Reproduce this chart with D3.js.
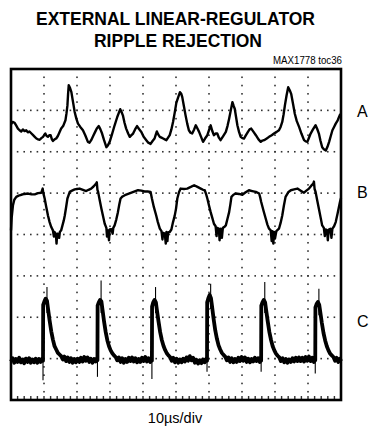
<!DOCTYPE html>
<html>
<head>
<meta charset="utf-8">
<script src="https://cdn.jsdelivr.net/npm/d3@7"></script>
<style>
  html, body { margin: 0; padding: 0; background: #fff; }
  svg { display: block; }
  text { font-family: "Liberation Sans", Arial, sans-serif; fill: #000; }
</style>
</head>
<body>
<div id="chart"></div>
<script>
// Oscilloscope capture: time in µs (10 µs/div, 10 divisions), amplitude in screen divisions (0 = bottom, 8 = top)
const titleLines = ["EXTERNAL LINEAR-REGULATOR", "RIPPLE REJECTION"];
const figureId = "MAX1778 toc36";
const channelNames = ["A", "B", "C"];
const timebaseLabel = "10µs/div";
const gridCols = [10, 20, 30, 40, 50, 60, 70, 80, 90];
const gridRows = [1, 2, 3, 4, 5, 6, 7];

// Channel A: regulator output ripple
const traceA = [
  [0.0,6.66],[0.5,6.72],[1.1,6.70],[1.6,6.63],[2.1,6.56],[2.6,6.52],[3.1,6.49],[3.6,6.54],[4.1,6.50],[4.6,6.52],
  [5.1,6.47],[5.6,6.49],[6.2,6.44],[6.7,6.40],[7.2,6.36],[7.7,6.32],[8.2,6.30],[8.7,6.29],[9.2,6.33],[9.7,6.36],
  [10.1,6.41],[10.4,6.44],[10.8,6.38],[11.2,6.36],[11.6,6.40],[12.0,6.40],[12.4,6.30],[12.7,6.26],[13.2,6.30],[13.7,6.32],
  [14.2,6.38],[14.7,6.47],[15.2,6.56],[15.8,6.62],[16.5,6.76],[16.8,6.92],[17.1,7.12],[17.3,7.40],[17.5,7.61],[17.9,7.54],
  [18.3,7.44],[18.8,7.20],[19.3,6.96],[19.8,6.80],[20.3,6.68],[21.0,6.60],[21.8,6.52],[22.5,6.40],[23.3,6.24],[23.8,6.22],
  [24.3,6.28],[24.9,6.38],[25.5,6.48],[26.0,6.56],[26.6,6.62],[27.1,6.54],[27.6,6.44],[28.2,6.28],[28.9,6.11],[29.4,6.16],
  [29.9,6.24],[30.6,6.42],[31.4,6.64],[32.2,6.84],[33.1,7.03],[33.5,6.96],[33.9,6.88],[34.4,6.70],[34.9,6.56],[35.5,6.44],
  [36.0,6.36],[36.5,6.40],[37.0,6.44],[37.6,6.54],[38.2,6.62],[38.8,6.55],[39.5,6.48],[40.2,6.36],[41.0,6.28],[41.6,6.22],
  [42.3,6.19],[42.9,6.26],[43.5,6.32],[43.9,6.42],[44.2,6.49],[44.6,6.42],[45.1,6.36],[45.6,6.34],[46.1,6.32],[46.6,6.30],
  [47.1,6.28],[47.6,6.34],[48.1,6.40],[48.6,6.54],[49.1,6.72],[49.6,6.94],[50.1,7.18],[50.6,7.30],[51.2,7.44],[51.6,7.40],
  [51.9,7.32],[52.4,7.10],[52.9,6.88],[53.4,6.68],[53.9,6.52],[54.4,6.46],[54.9,6.44],[55.5,6.54],[56.0,6.64],[56.5,6.56],
  [57.0,6.48],[57.6,6.36],[58.2,6.24],[58.8,6.32],[59.5,6.40],[60.0,6.52],[60.5,6.64],[61.0,6.50],[61.5,6.40],[62.0,6.44],
  [62.5,6.44],[63.0,6.34],[63.5,6.28],[64.3,6.38],[65.1,6.48],[65.6,6.62],[66.1,6.80],[66.6,7.00],[67.1,7.20],[67.5,7.10],
  [67.8,7.04],[68.2,6.84],[68.6,6.64],[69.1,6.48],[69.6,6.36],[70.1,6.33],[70.6,6.32],[71.2,6.40],[71.8,6.48],[72.3,6.54],
  [72.8,6.56],[73.5,6.48],[74.2,6.40],[75.0,6.30],[75.7,6.24],[76.2,6.27],[76.7,6.28],[77.5,6.32],[78.2,6.36],[79.0,6.40],
  [79.7,6.44],[80.5,6.48],[81.2,6.52],[81.7,6.60],[82.2,6.72],[82.6,6.90],[83.0,7.12],[83.5,7.36],[84.0,7.56],[84.5,7.48],
  [84.9,7.40],[85.5,7.14],[86.0,6.92],[86.6,6.74],[87.3,6.60],[88.0,6.44],[88.8,6.28],[89.3,6.25],[89.8,6.24],[90.3,6.34],
  [90.8,6.44],[91.5,6.54],[92.3,6.64],[92.8,6.55],[93.3,6.44],[93.8,6.26],[94.3,6.11],[94.8,6.06],[95.4,6.03],[95.9,6.12],
  [96.4,6.24],[96.9,6.38],[97.4,6.52],[97.9,6.60],[98.4,6.68],[99.0,6.76],[99.6,6.88],[100,6.92]
];

// Channel B: regulator input ripple
const traceB = [
  [0.0,4.10],[0.2,4.40],[0.6,4.71],[1.0,4.84],[1.6,4.91],[2.3,4.94],[3.1,4.96],[4.1,4.98],[5.2,4.99],[6.2,4.97],
  [7.2,4.97],[8.2,5.00],[9.2,5.01],[9.6,5.11],[9.8,5.00],[10.2,4.87],[10.7,4.66],[11.2,4.46],[11.7,4.30],[12.2,4.18],
  [12.7,4.10],[13.0,3.95],[13.2,4.06],[13.6,4.00],[13.8,3.78],[14.0,4.02],[14.2,4.02],[14.6,3.92],[14.8,4.06],[15.2,4.10],
  [15.6,4.22],[16.0,4.34],[16.3,4.46],[16.7,4.66],[17.1,4.87],[17.8,5.03],[18.5,5.06],[19.3,5.09],[20.0,5.10],[20.8,5.11],
  [21.8,5.08],[22.8,5.05],[23.5,5.08],[24.3,5.11],[25.0,5.16],[25.8,5.23],[26.0,5.26],[26.2,5.08],[26.4,5.03],[26.9,4.82],
  [27.4,4.62],[27.9,4.44],[28.4,4.26],[28.9,4.16],[29.1,3.95],[29.4,4.10],[29.7,3.86],[29.9,4.12],[30.4,4.13],[30.8,4.02],
  [31.0,4.16],[31.4,4.22],[31.9,4.36],[32.4,4.54],[32.8,4.72],[33.2,4.87],[33.8,4.92],[34.5,4.95],[35.5,4.98],[36.5,5.01],
  [37.5,5.04],[38.5,5.07],[39.5,5.06],[40.5,5.04],[41.4,5.04],[42.3,5.03],[42.7,4.87],[43.3,4.66],[44.0,4.46],[44.5,4.30],
  [45.1,4.14],[45.6,4.08],[45.9,3.88],[46.1,4.04],[46.6,4.02],[46.9,3.78],[47.1,4.06],[47.4,3.84],[47.6,4.05],[48.1,4.06],
  [48.6,4.12],[49.1,4.30],[49.6,4.45],[50.0,4.62],[50.4,4.87],[50.9,5.02],[51.4,5.11],[52.4,5.10],[53.4,5.11],[54.5,5.15],
  [55.5,5.19],[56.5,5.15],[57.5,5.11],[58.2,5.08],[58.7,5.07],[59.1,4.98],[59.5,4.87],[60.0,4.70],[60.5,4.54],[61.0,4.40],
  [61.5,4.26],[62.0,4.20],[62.3,3.96],[62.5,4.16],[63.0,4.14],[63.2,3.86],[63.5,4.14],[63.9,3.92],[64.2,4.16],[64.6,4.18],
  [65.1,4.22],[65.6,4.38],[66.1,4.54],[66.5,4.74],[66.8,4.91],[67.4,4.96],[68.1,4.99],[69.1,4.98],[70.1,4.96],[71.1,5.02],
  [72.1,5.07],[73.1,5.05],[74.2,5.03],[75.2,4.99],[75.5,4.90],[75.8,4.79],[76.5,4.58],[77.2,4.38],[77.7,4.24],[78.2,4.14],
  [78.7,4.10],[79.0,3.84],[79.2,4.08],[79.5,3.78],[79.7,4.06],[80.0,3.90],[80.4,4.08],[81.2,4.14],[81.7,4.28],[82.2,4.46],
  [82.7,4.70],[83.2,4.91],[84.0,5.02],[84.8,5.07],[85.8,5.09],[86.8,5.11],[87.8,5.06],[88.8,5.01],[89.5,5.06],[90.3,5.11],
  [91.0,5.18],[91.6,5.23],[91.8,5.28],[92.0,5.10],[92.3,5.03],[92.8,4.82],[93.3,4.62],[93.8,4.42],[94.3,4.22],[94.8,4.16],
  [95.1,3.96],[95.4,4.12],[95.8,4.10],[96.0,3.86],[96.3,4.12],[96.8,4.14],[97.1,3.92],[97.4,4.14],[97.9,4.20],[98.4,4.30],
  [99.0,4.52],[99.7,4.79],[100,4.88]
];

// Channel C: switching pulses with noisy baseline
const traceC = [
  [0.0,0.93],[0.5,1.01],[1.0,0.90],[1.5,0.99],[2.0,0.92],[2.5,1.02],[3.0,0.91],[3.5,0.98],[4.0,0.89],[4.5,1.00],
  [5.0,0.92],[5.5,1.01],[6.0,0.90],[6.5,0.98],[7.0,0.91],[7.5,1.00],[8.0,0.90],[8.5,0.99],[9.0,0.92],[9.5,1.00],[9.7,0.95],
  [9.75,2.30],[10.1,2.38],[10.5,2.45],[10.9,2.40],[11.2,2.22],[11.7,1.92],[12.2,1.66],[12.7,1.46],[13.2,1.30],[13.7,1.22],
  [14.2,1.14],[14.7,1.10],[15.2,1.06],[15.7,0.98],[16.2,1.05],[16.7,0.94],[17.2,1.03],[17.7,0.92],[18.2,1.01],[18.7,0.90],
  [19.2,0.99],[19.7,0.91],[20.2,1.00],[20.7,0.92],[21.2,1.02],[21.7,0.93],[22.2,1.04],[22.7,0.95],[23.2,1.03],[23.7,0.92],
  [24.2,1.00],[24.7,0.90],[25.2,0.99],[25.7,0.93],[26.1,1.02],[26.2,0.96],
  [26.25,2.28],[26.6,2.36],[27.0,2.42],[27.4,2.38],[27.7,2.20],[28.2,1.90],[28.7,1.64],[29.2,1.44],[29.7,1.30],[30.2,1.20],
  [30.7,1.13],[31.2,1.08],[31.7,1.04],[32.2,0.96],[32.7,1.03],[33.2,0.92],[33.7,1.01],[34.2,0.90],[34.7,0.99],[35.2,0.92],
  [35.7,1.02],[36.2,0.94],[36.7,1.03],[37.2,0.93],[37.7,1.01],[38.2,0.91],[38.7,0.99],[39.2,0.92],[39.7,1.02],[40.2,0.94],
  [40.7,1.04],[41.2,0.93],[41.7,1.01],[42.2,0.92],[42.6,1.00],[42.7,0.95],
  [42.75,2.26],[43.1,2.36],[43.5,2.42],[43.9,2.36],[44.2,2.18],[44.7,1.90],[45.2,1.64],[45.7,1.45],[46.2,1.31],[46.7,1.21],
  [47.2,1.13],[47.7,1.08],[48.2,1.04],[48.7,0.95],[49.2,1.02],[49.7,0.91],[50.2,1.00],[50.7,0.90],[51.2,0.98],[51.7,0.91],
  [52.2,1.00],[52.7,0.93],[53.2,1.03],[53.7,0.95],[54.2,1.06],[54.7,0.96],[55.2,1.02],[55.7,0.90],[56.2,0.97],[56.7,0.88],
  [57.2,0.96],[57.7,0.89],[58.2,0.98],[58.7,0.91],[59.2,1.00],[59.4,0.95],
  [59.45,2.36],[59.8,2.46],[60.2,2.54],[60.6,2.46],[60.9,2.28],[61.4,1.96],[61.9,1.68],[62.4,1.48],[62.9,1.32],[63.4,1.22],
  [63.9,1.14],[64.4,1.09],[64.9,1.05],[65.4,0.96],[65.9,1.03],[66.4,0.92],[66.9,1.01],[67.4,0.91],[67.9,0.99],[68.4,0.92],
  [68.9,1.02],[69.4,0.94],[69.9,1.04],[70.4,0.95],[70.9,1.03],[71.4,0.92],[71.9,1.00],[72.4,0.91],[72.9,0.99],[73.4,0.93],
  [73.9,1.02],[74.4,0.94],[74.9,1.01],[75.4,0.92],[75.7,1.00],[75.8,0.95],
  [75.85,2.28],[76.2,2.36],[76.6,2.42],[77.0,2.36],[77.3,2.18],[77.8,1.90],[78.3,1.64],[78.8,1.45],[79.3,1.30],[79.8,1.20],
  [80.3,1.12],[80.8,1.07],[81.3,1.03],[81.8,0.94],[82.3,1.01],[82.8,0.91],[83.3,0.99],[83.8,0.90],[84.3,0.98],[84.8,0.92],
  [85.3,1.01],[85.8,0.93],[86.3,1.02],[86.8,0.94],[87.3,1.03],[87.8,0.94],[88.3,1.02],[88.8,0.93],[89.3,1.04],[89.8,0.95],
  [90.3,1.05],[90.8,0.94],[91.3,1.02],[91.8,0.92],[92.1,1.00],[92.2,0.96],
  [92.25,2.24],[92.6,2.32],[93.0,2.37],[93.4,2.30],[93.7,2.14],[94.2,1.86],[94.7,1.62],[95.2,1.44],[95.7,1.30],[96.2,1.20],
  [96.7,1.12],[97.2,1.08],[97.7,1.04],[98.2,0.95],[98.7,1.02],[99.2,0.92],[99.7,1.00],[100,0.94]
];

// Thin switching glitches on channel C: [time, from, to]
const traceCGlitches = [
  [9.7,0.48,2.30],[10.9,2.10,2.73],
  [26.2,0.56,2.28],[27.3,2.10,2.89],
  [42.7,0.51,2.26],[43.8,2.10,2.73],
  [59.4,0.68,2.36],[60.5,2.20,2.81],
  [75.8,0.68,2.28],[76.9,2.10,2.85],
  [92.2,0.64,2.24],[93.3,2.05,2.69]
];

const W = 369, H = 431;
const svg = d3.select("#chart").append("svg").attr("width", W).attr("height", H);
svg.append("rect").attr("width", W).attr("height", H).attr("fill", "#fff");

const x = d3.scaleLinear().domain([0, 100]).range([11, 341]);
const y = d3.scaleLinear().domain([0, 8]).range([400, 69]);

// Title
svg.append("text").attr("x", 175.5).attr("y", 25).attr("text-anchor", "middle")
  .attr("textLength", 279).attr("lengthAdjust", "spacingAndGlyphs")
  .style("font-weight", "bold").style("font-size", "18.2px").text(titleLines[0]);
svg.append("text").attr("x", 178).attr("y", 46.5).attr("text-anchor", "middle")
  .attr("textLength", 168).attr("lengthAdjust", "spacingAndGlyphs")
  .style("font-weight", "bold").style("font-size", "18.2px").text(titleLines[1]);
svg.append("text").attr("x", 342).attr("y", 64).attr("text-anchor", "end")
  .attr("textLength", 69).attr("lengthAdjust", "spacingAndGlyphs")
  .style("font-size", "10px").text(figureId);

// Graticule: dotted division lines, dots every minor (1/5) division
const grid = svg.append("g").attr("fill", "#333");
const minorT = d3.range(0, 100.001, 2);
const minorV = d3.range(0, 8.001, 0.2);
gridRows.forEach(r => {
  grid.selectAll(null).data(minorT).enter().append("rect")
    .attr("x", d => x(d) - 0.8).attr("y", y(r) - 0.8).attr("width", 1.6).attr("height", 1.6);
});
gridCols.forEach(c => {
  grid.selectAll(null).data(minorV).enter().append("rect")
    .attr("x", x(c) - 0.8).attr("y", d => y(d) - 0.8).attr("width", 1.6).attr("height", 1.6);
});
// minor ticks along the bottom edge
grid.selectAll(null).data(minorT).enter().append("rect")
  .attr("x", d => x(d) - 0.7).attr("y", y(0) - 4).attr("width", 1.4).attr("height", 3);

// Traces
const line = d3.line().x(d => x(d[0])).y(d => y(d[1]));
svg.append("path").datum(traceA).attr("d", line)
  .attr("fill", "none").attr("stroke", "#000").attr("stroke-width", 2.4).attr("stroke-linejoin", "round");
svg.append("path").datum(traceB).attr("d", line)
  .attr("fill", "none").attr("stroke", "#000").attr("stroke-width", 2.4).attr("stroke-linejoin", "round");
svg.append("path").datum(traceC).attr("d", line)
  .attr("fill", "none").attr("stroke", "#000").attr("stroke-width", 3.8).attr("stroke-linejoin", "round");
svg.append("g").selectAll("line").data(traceCGlitches).enter().append("line")
  .attr("x1", d => x(d[0])).attr("x2", d => x(d[0]))
  .attr("y1", d => y(d[1])).attr("y2", d => y(d[2]))
  .attr("stroke", "#000").attr("stroke-width", 1.1);

// Screen border
svg.append("rect").attr("x", x(0)).attr("y", y(8))
  .attr("width", x(100) - x(0)).attr("height", y(0) - y(8))
  .attr("fill", "none").attr("stroke", "#000").attr("stroke-width", 2.6);

// Channel labels
const labelBaselines = [117, 198, 326.5];
channelNames.forEach((n, i) => {
  svg.append("text").attr("x", 357).attr("y", labelBaselines[i]).style("font-size", "16px").text(n);
});

// Timebase
svg.append("text").attr("x", 175).attr("y", 423).attr("text-anchor", "middle")
  .style("font-size", "14.5px").text(timebaseLabel);
</script>
</body>
</html>
